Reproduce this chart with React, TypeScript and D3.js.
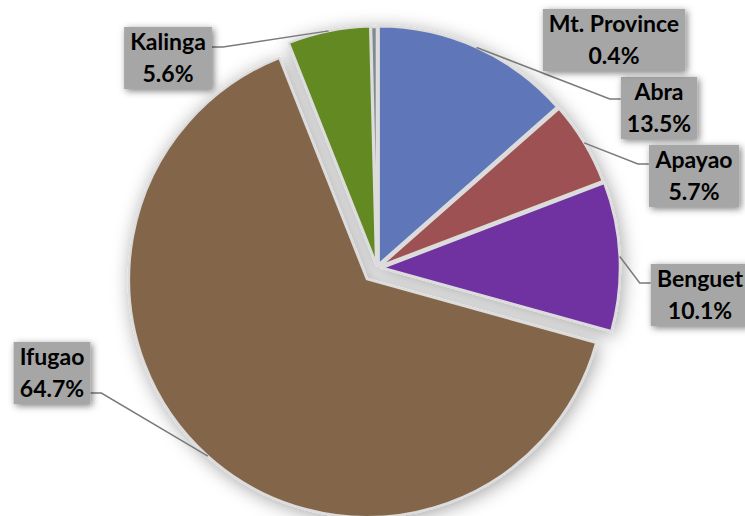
import * as d3 from "d3";
import React, { useEffect, useRef } from "react";

// Share of total by province (percent)
const provinces = ["Abra", "Apayao", "Benguet", "Ifugao", "Kalinga", "Mt. Province"];
const shares = [13.5, 5.7, 10.1, 64.7, 5.6, 0.4];

const sliceColors = ["#5f77b8", "#9e5152", "#7030a0", "#836549", "#638a21", "#7f8b8f"];

// How far each slice is pulled out of the pie
const explode: Record<string, number> = {
  Abra: 4,
  Apayao: 4,
  Benguet: 5,
  Ifugao: 15,
  Kalinga: 4,
  "Mt. Province": 3,
};

// Manually placed data labels (box centre, where the leader line meets the box)
const labelLayout: Record<
  string,
  { x: number; y: number; attachDy: number; leader: boolean }
> = {
  Abra: { x: 659, y: 108, attachDy: -9, leader: true },
  Apayao: { x: 694, y: 176, attachDy: -12, leader: true },
  Benguet: { x: 700, y: 295, attachDy: -12, leader: true },
  Ifugao: { x: 52, y: 373, attachDy: 20, leader: true },
  Kalinga: { x: 168, y: 58, attachDy: -11, leader: true },
  "Mt. Province": { x: 614, y: 40, attachDy: 0, leader: false },
};

const WIDTH = 745;
const HEIGHT = 516;

export default function App() {
  const svgRef = useRef<SVGSVGElement>(null);

  useEffect(() => {
    if (!svgRef.current) return;
    const svg = d3.select(svgRef.current);
    svg.selectAll("*").remove();

    const cx = 377;
    const cy = 268;
    const radius = 238;

    const defs = svg.append("defs");
    const pieShadow = defs
      .append("filter")
      .attr("id", "pieShadow")
      .attr("x", "-20%")
      .attr("y", "-20%")
      .attr("width", "140%")
      .attr("height", "140%");
    pieShadow
      .append("feDropShadow")
      .attr("dx", 2)
      .attr("dy", 3)
      .attr("stdDeviation", 9)
      .attr("flood-color", "#000")
      .attr("flood-opacity", 0.35);

    const boxShadow = defs
      .append("filter")
      .attr("id", "boxShadow")
      .attr("x", "-30%")
      .attr("y", "-30%")
      .attr("width", "160%")
      .attr("height", "160%");
    boxShadow
      .append("feDropShadow")
      .attr("dx", 2)
      .attr("dy", 2)
      .attr("stdDeviation", 3.5)
      .attr("flood-color", "#000")
      .attr("flood-opacity", 0.5);

    const data = provinces.map((name, i) => ({ name, value: shares[i], color: sliceColors[i] }));
    type Datum = (typeof data)[number];

    const pie = d3
      .pie<Datum>()
      .sort(null)
      .value((d) => d.value);
    const arcs = pie(data);

    const arc = d3
      .arc<d3.PieArcDatum<Datum>>()
      .innerRadius(0)
      .outerRadius(radius);

    const offset = (a: d3.PieArcDatum<Datum>) => {
      const mid = (a.startAngle + a.endAngle) / 2;
      const e = explode[a.data.name] ?? 0;
      return [Math.sin(mid) * e, -Math.cos(mid) * e];
    };

    const pieG = svg
      .append("g")
      .attr("transform", `translate(${cx},${cy})`)
      .attr("filter", "url(#pieShadow)");

    pieG
      .selectAll("path")
      .data(arcs)
      .join("path")
      .attr("transform", (d) => {
        const [ox, oy] = offset(d);
        return `translate(${ox},${oy})`;
      })
      .attr("d", arc)
      .attr("fill", (d) => d.data.color)
      .attr("stroke", "#dcdcdc")
      .attr("stroke-width", 2.5)
      .attr("stroke-linejoin", "round");

    // Leader lines + labels
    const fmt = d3.format(".1f");
    const leaderG = svg.append("g");
    const labelG = svg.append("g");

    arcs.forEach((a) => {
      const lay = labelLayout[a.data.name];
      const g = labelG.append("g");
      const t = g
        .append("text")
        .attr("text-anchor", "middle")
        .attr("font-family", "Lato, 'Noto Sans', sans-serif")
        .attr("font-weight", "bold")
        .attr("font-size", 23)
        .attr("fill", "#000");
      t.append("tspan").attr("x", lay.x).attr("y", lay.y - 8).text(a.data.name);
      t.append("tspan")
        .attr("x", lay.x)
        .attr("y", lay.y + 24)
        .text(`${fmt(a.data.value)}%`);

      const bb = (t.node() as SVGTextElement).getBBox();
      const w = bb.width + 12;
      const h = 62;
      g.insert("rect", "text")
        .attr("x", lay.x - w / 2)
        .attr("y", lay.y - h / 2)
        .attr("width", w)
        .attr("height", h)
        .attr("fill", "#a6a6a6")
        .attr("filter", "url(#boxShadow)");

      if (!lay.leader) return;
      const mid = (a.startAngle + a.endAngle) / 2;
      const [ox, oy] = offset(a);
      const sx = cx + ox + Math.sin(mid) * radius;
      const sy = cy + oy - Math.cos(mid) * radius;
      const onRight = lay.x > cx;
      const ax = onRight ? lay.x - w / 2 : lay.x + w / 2;
      const ay = lay.y + lay.attachDy;
      const ex = onRight ? ax - 11 : ax + 11;
      leaderG
        .append("path")
        .attr("d", d3.line()([[sx, sy], [ex, ay], [ax, ay]]))
        .attr("fill", "none")
        .attr("stroke", "#7a7a7a")
        .attr("stroke-width", 1.5);
    });
  }, []);

  return (
    <div style={{ position: "fixed", left: 0, top: 0, width: WIDTH, height: HEIGHT, background: "#fff" }}>
      <svg ref={svgRef} width={WIDTH} height={HEIGHT} style={{ display: "block" }} />
    </div>
  );
}
